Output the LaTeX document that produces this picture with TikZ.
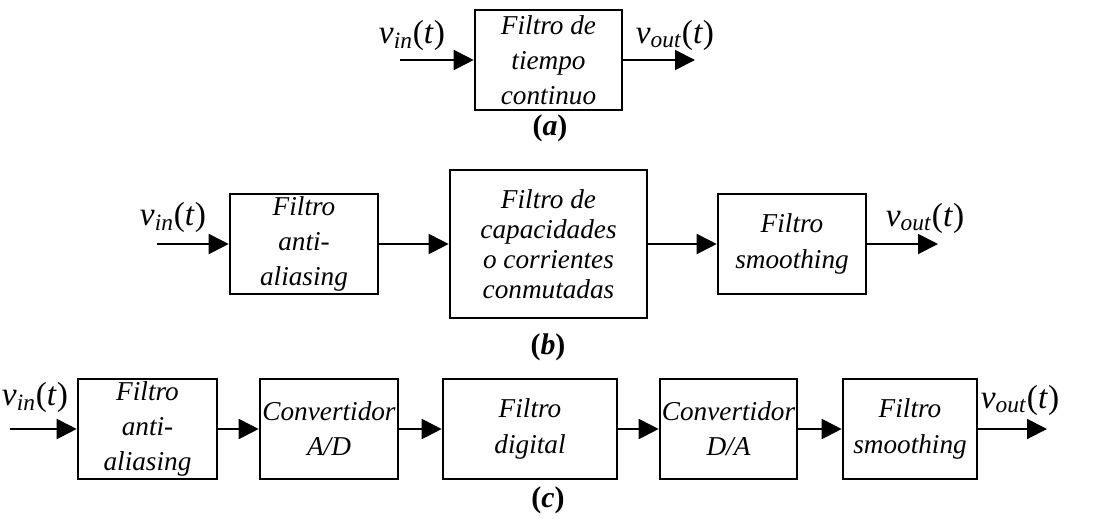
\documentclass[tikz,border=0pt]{standalone}
\usepackage{fontspec}
\setmainfont{Liberation Serif}
\usetikzlibrary{arrows.meta}

\newcommand{\vin}{\textit{v}\textsubscript{\textit{in}}(\textit{t})}
\newcommand{\vout}{\textit{v}\textsubscript{\textit{out}}(\textit{t})}

\tikzset{
  blk/.style={draw, line width=1.5pt, inner sep=0pt, align=center,
    minimum height=2cm, font=\fontsize{15.5}{20}\selectfont\itshape},
  sig/.style={line width=1.1pt, -{Triangle[length=4mm,width=4mm]}},
  lbl/.style={inner sep=0pt, font=\fontsize{19}{20}\selectfont},
  subcap/.style={inner sep=0pt, font=\fontsize{17}{20}\selectfont\bfseries},
}

\begin{document}
\begin{tikzpicture}

\useasboundingbox (0,0) rectangle (22.06,-10.36);

% (a) continuous-time filter
\node[blk, minimum width=2.94cm] (fA) at (10.97,-1.2) {Filtro de\\tiempo\\continuo};
\coordinate (inA) at (8.0,-1.2);
\coordinate (outA) at (13.9,-1.2);
\node[lbl] (vinA) at (8.24,-0.7) {\vin};
\node[lbl] (voutA) at (13.5,-0.7) {\vout};
\node[subcap] (capA) at (11.0,-2.56) {(\textit{a})};

\begin{scope}[sig]
\draw (inA) -- (fA);
\draw (fA) -- (outA);
\end{scope}

% (b) switched filter chain
\node[blk, minimum width=2.96cm] (aaB) at (6.08,-4.88) {Filtro\\anti-\\aliasing};
\node[blk, minimum width=3.94cm, minimum height=2.96cm,
  font=\fontsize{15.5}{17}\selectfont\itshape] (scB) at (10.97,-4.88)
  {Filtro de\\capacidades\\o corrientes\\conmutadas};
\node[blk, minimum width=2.96cm] (smB) at (15.84,-4.88) {Filtro\\smoothing};
\coordinate (inB) at (3.14,-4.88);
\coordinate (outB) at (18.76,-4.88);
\node[lbl] (vinB) at (3.46,-4.34) {\vin};
\node[lbl] (voutB) at (18.5,-4.36) {\vout};
\node[subcap] (capB) at (10.96,-6.94) {(\textit{b})};

\begin{scope}[sig]
\draw (inB) -- (aaB);
\draw (aaB) -- (scB);
\draw (scB) -- (smB);
\draw (smB) -- (outB);
\end{scope}

% (c) digital filter chain
\node[blk, minimum width=2.78cm] (aaC) at (2.95,-8.58) {Filtro\\anti-\\aliasing};
\node[blk, minimum width=2.76cm] (adC) at (6.58,-8.58) {Convertidor\\A/D};
\node[blk, minimum width=3.48cm] (dfC) at (10.6,-8.58) {Filtro\\digital};
\node[blk, minimum width=2.74cm] (daC) at (14.57,-8.58) {Convertidor\\D/A};
\node[blk, minimum width=2.68cm] (smC) at (18.2,-8.58) {Filtro\\smoothing};
\coordinate (inC) at (0.2,-8.58);
\coordinate (outC) at (20.94,-8.58);
\node[lbl] (vinC) at (0.7,-7.94) {\vin};
\node[lbl] (voutC) at (20.4,-8.0) {\vout};
\node[subcap] (capC) at (10.96,-10.0) {(\textit{c})};

\begin{scope}[sig]
\draw (inC) -- (aaC);
\draw (aaC) -- (adC);
\draw (adC) -- (dfC);
\draw (dfC) -- (daC);
\draw (daC) -- (smC);
\draw (smC) -- (outC);
\end{scope}

\end{tikzpicture}
\end{document}
